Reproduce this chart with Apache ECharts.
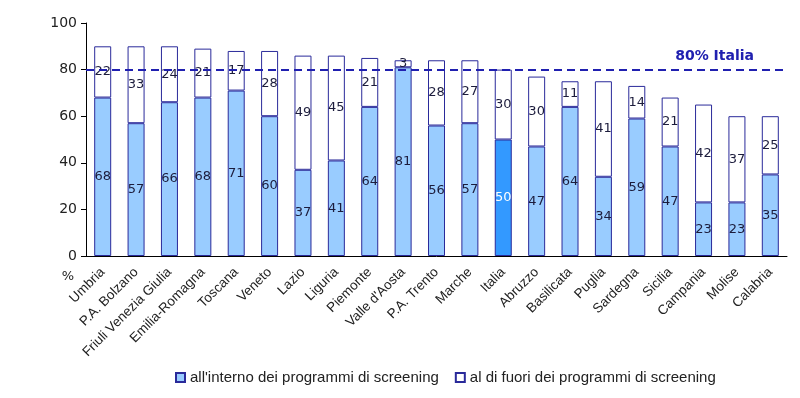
<!DOCTYPE html>
<html>
<head>
<meta charset="utf-8">
<script src="https://cdn.jsdelivr.net/npm/echarts@6/dist/echarts.min.js"></script>
<style>
  html, body { margin: 0; padding: 0; background: #fff; }
  #main { width: 800px; height: 398px; }
</style>
</head>
<body>
<div id="main"></div>
<script>
var regions = ['Umbria', 'P.A. Bolzano', 'Friuli Venezia Giulia', 'Emilia-Romagna', 'Toscana', 'Veneto',
    'Lazio', 'Liguria', 'Piemonte', "Valle d'Aosta", 'P.A. Trento', 'Marche', 'Italia', 'Abruzzo',
    'Basilicata', 'Puglia', 'Sardegna', 'Sicilia', 'Campania', 'Molise', 'Calabria'];
var inside = [68, 57, 66, 68, 71, 60, 37, 41, 64, 81, 56, 57, 50, 47, 64, 34, 59, 47, 23, 23, 35];
var outside = [22, 33, 24, 21, 17, 28, 49, 45, 21, 3, 28, 27, 30, 30, 11, 41, 14, 21, 42, 37, 25];
var yTicks = [0, 20, 40, 60, 80, 100];
var italiaTarget = 80;

var font = 'Verdana, "DejaVu Sans", sans-serif';
var narrow = '"Liberation Sans", Arial, sans-serif';
var myChart = echarts.init(document.getElementById('main'));

// Italia bar gets the darker fill and white label
var insideData = inside.map(function (v, i) {
    if (regions[i] === 'Italia') {
        return { value: v, itemStyle: { color: '#3399ff' }, label: { color: '#ffffff' } };
    }
    return v;
});

var option = {
    animation: false,
    grid: { left: 86, right: 13, top: 23, bottom: 142 },
    legend: {
        bottom: 8,
        left: 170,
        itemWidth: 9,
        itemHeight: 9,
        itemGap: 16,
        icon: 'rect',
        textStyle: { fontFamily: narrow, fontSize: 15, color: '#222' },
        data: ["all'interno dei programmi di screening", 'al di fuori dei programmi di screening']
    },
    xAxis: {
        type: 'category',
        data: regions,
        axisLine: { lineStyle: { color: '#000', width: 1 } },
        axisTick: { show: false },
        axisLabel: { rotate: 45, interval: 0, margin: 14, fontFamily: narrow, fontSize: 13.5, color: '#222' }
    },
    yAxis: {
        type: 'value',
        min: yTicks[0],
        max: yTicks[yTicks.length - 1],
        interval: 20,
        name: '%',
        nameLocation: 'start',
        nameGap: 14,
        nameTextStyle: { fontFamily: font, fontSize: 13, color: '#222', align: 'right', padding: [0, 12, 0, 0] },
        splitLine: { show: false },
        axisLine: { show: true, lineStyle: { color: '#000', width: 1 } },
        axisTick: { show: true, length: 5, lineStyle: { color: '#000' } },
        axisLabel: { fontFamily: font, fontSize: 14, color: '#222', margin: 9 }
    },
    series: [{
        name: "all'interno dei programmi di screening",
        type: 'bar',
        stack: 'tot',
        barWidth: 17,
        itemStyle: { color: '#99ccff', borderColor: '#2a2a9a', borderWidth: 1 },
        label: { show: true, position: 'inside', fontFamily: font, fontSize: 13, color: '#1c1c3c' },
        data: insideData,
        markLine: {
            silent: true,
            symbol: 'none',
            lineStyle: { color: '#2020b0', type: [8, 5], width: 2 },
            label: {
                show: true,
                position: 'insideEndTop',
                formatter: '80% Italia',
                fontFamily: font,
                fontWeight: 'bold',
                fontSize: 14,
                color: '#2020b0',
                distance: [33, 6]
            },
            data: [{ yAxis: italiaTarget }]
        }
    }, {
        name: 'al di fuori dei programmi di screening',
        type: 'bar',
        stack: 'tot',
        barWidth: 17,
        itemStyle: { color: '#ffffff', borderColor: '#2a2a9a', borderWidth: 1 },
        label: { show: true, position: 'inside', fontFamily: font, fontSize: 13, color: '#1c1c3c' },
        data: outside
    }]
};

myChart.setOption(option);
</script>
</body>
</html>
